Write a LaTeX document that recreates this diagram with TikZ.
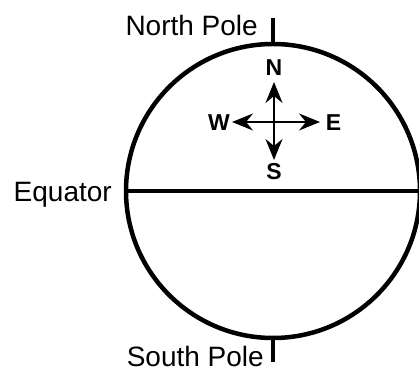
\documentclass[tikz,border=0pt]{standalone}
\usepackage{fontspec}
\setmainfont{Liberation Sans}
\usetikzlibrary{positioning,arrows.meta}

\begin{document}
\begin{tikzpicture}[
  x=1pt, y=1pt,
  lbl/.style={font=\fontsize{28}{32}\selectfont, inner sep=0pt},
  dirlbl/.style={font=\fontsize{23}{26}\selectfont\bfseries, inner sep=0pt},
  globe/.style={draw, circle, line width=4.5pt, minimum size=294pt, inner sep=0pt},
  pole/.style={line width=4.5pt},
  compass/.style={line width=2.2pt, -{Stealth[length=21pt, width=17pt, inset=7pt]}}
]
\useasboundingbox (0,0) rectangle (419,371);
\clip (0,0) rectangle (419,371);

% the globe and its equator
\node[globe] (earth) at (273,180) {};
\draw[pole] (earth.west) -- (earth.east);
\node[lbl, anchor=east] (eq) at (112,176) {Equator};

% poles
\coordinate (ntop) at ([yshift=24pt]earth.north);
\coordinate (sbot) at ([yshift=-22pt]earth.south);
\draw[pole] (earth.north) -- (ntop);
\draw[pole] (earth.south) -- (sbot);
\node[lbl, anchor=east] (np) at (258,346) {North Pole};
\node[lbl, anchor=east] (sp) at (264,14.5) {South Pole};

% compass
\coordinate (c) at (274,249);
\coordinate (ntip) at (274,289);
\coordinate (stip) at (274,211);
\coordinate (wtip) at (232,249);
\coordinate (etip) at (320,249);
\draw[compass] (c) -- (ntip);
\draw[compass] (c) -- (stip);
\draw[compass] (c) -- (wtip);
\draw[compass] (c) -- (etip);
\node[dirlbl] (n) at (274,303.5) {N};
\node[dirlbl] (s) at (274,199) {S};
\node[dirlbl] (w) at (219,248.5) {W};
\node[dirlbl] (e) at (333.5,248.5) {E};
\end{tikzpicture}
\end{document}
